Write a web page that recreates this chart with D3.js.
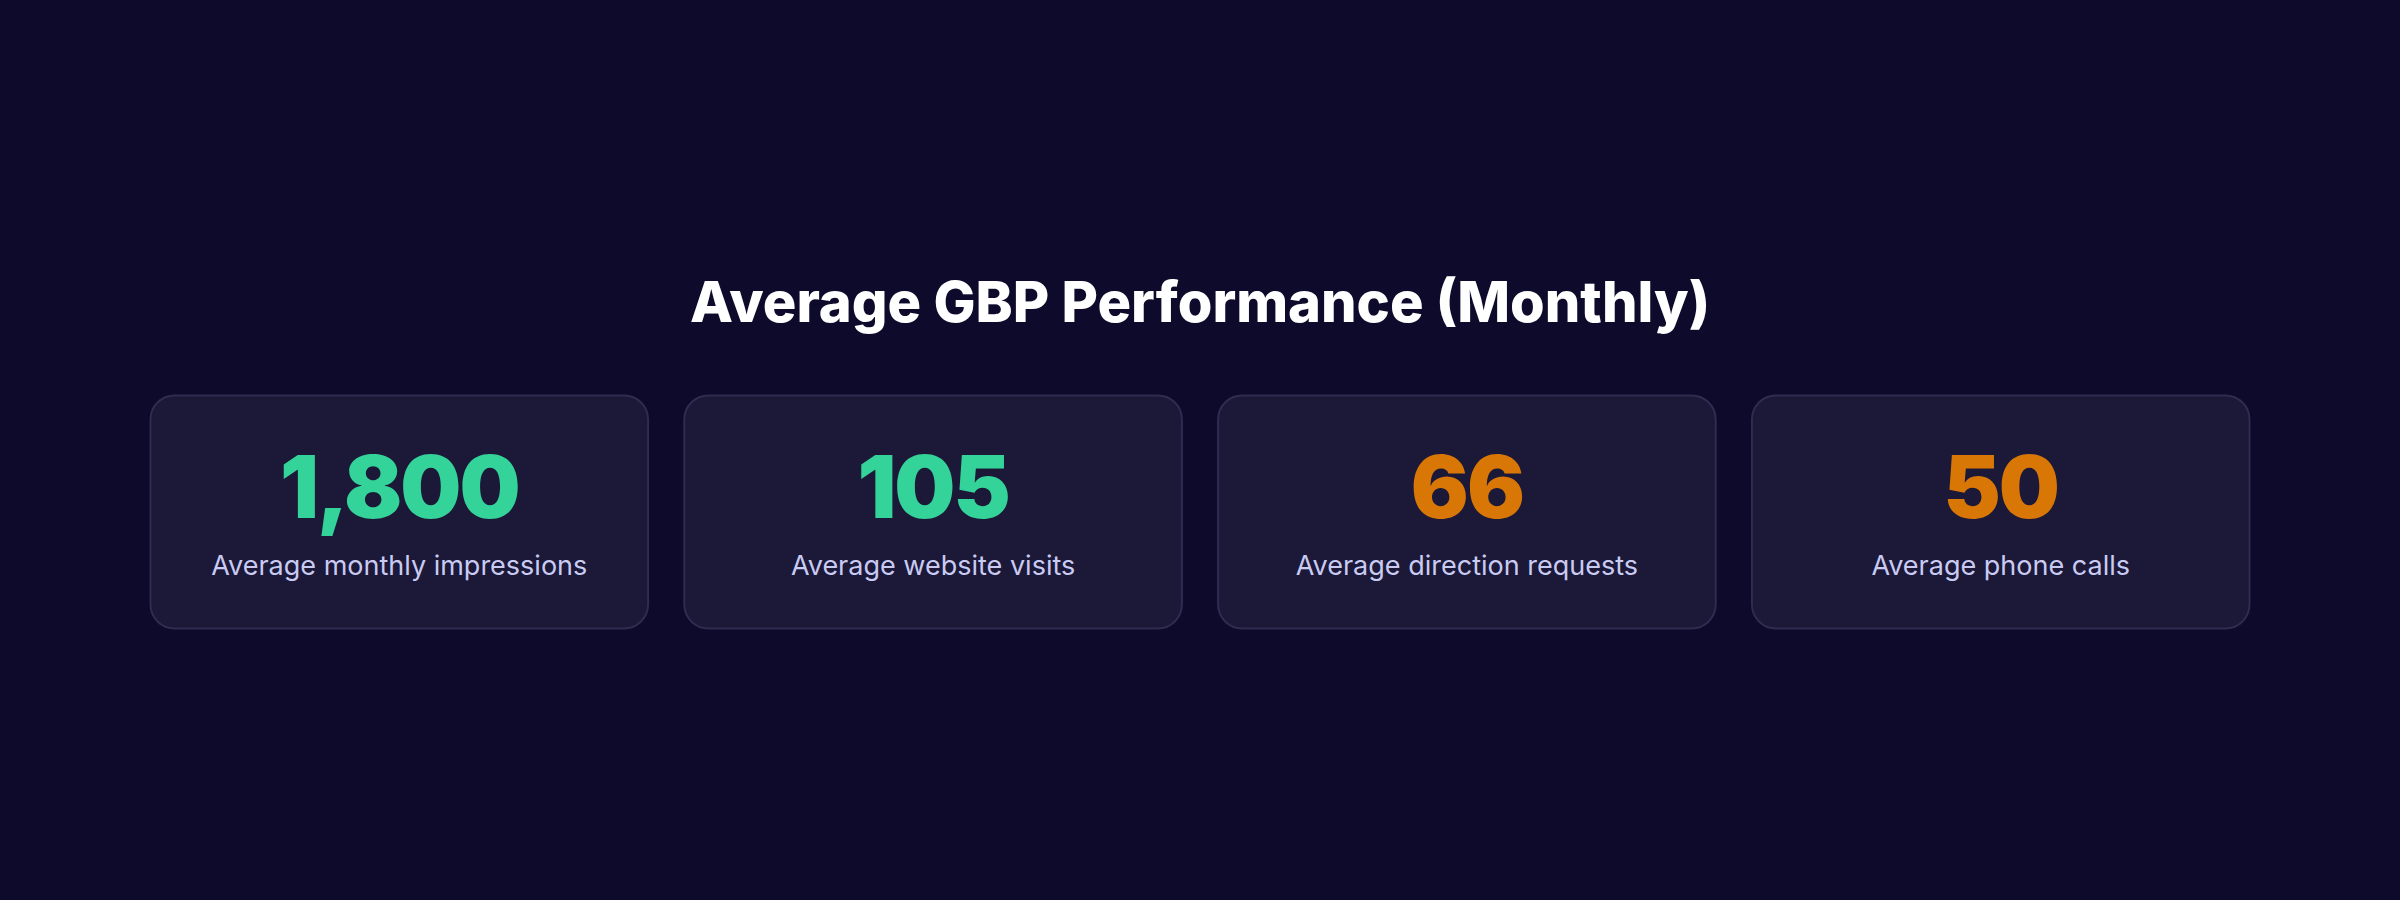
<!DOCTYPE html>
<html><head><meta charset="utf-8">
<script src="https://cdn.jsdelivr.net/npm/d3@7"></script>
<style>html,body{margin:0;background:#0d0a2b;}svg{display:block;}</style>
</head><body>
<svg id="c" width="2400" height="900"></svg>
<script>
const title = "Average GBP Performance (Monthly)";
const labels = ["Average monthly impressions","Average website visits","Average direction requests","Average phone calls"];
const values = [1800, 105, 66, 50];
const colors = ["#34d399","#34d399","#d97706","#d97706"];

const svg = d3.select("#c");
svg.append("rect").attr("width",2400).attr("height",900).attr("fill","#0d0a2b");
svg.append("text").attr("x",1200).attr("y",322).attr("text-anchor","middle")
  .attr("font-family","Inter").attr("font-weight",800).attr("font-size",56).attr("fill","#ffffff").text(title);

const x = d3.scaleBand().domain(d3.range(labels.length)).range([150,2250]).paddingInner(0.066);
const g = svg.selectAll("g.card").data(labels).join("g").attr("transform",(d,i)=>`translate(${x(i)},395)`);
g.append("rect").attr("x",0.5).attr("y",0.5).attr("width",x.bandwidth()-1).attr("height",233).attr("rx",24)
  .attr("fill","#1b1838").attr("stroke","#2f2c50").attr("stroke-width",2);
g.append("text").attr("x",x.bandwidth()/2).attr("y",123).attr("text-anchor","middle")
  .attr("font-family","Inter").attr("font-weight",900).attr("font-size",86).attr("letter-spacing",-2)
  .attr("fill",(d,i)=>colors[i]).text((d,i)=>d3.format(",")(values[i]));
g.append("text").attr("x",x.bandwidth()/2).attr("y",180).attr("text-anchor","middle")
  .attr("font-family","Inter").attr("font-weight",400).attr("font-size",27)
  .attr("fill","#c9cbf2").text(d=>d);
</script></body></html>
